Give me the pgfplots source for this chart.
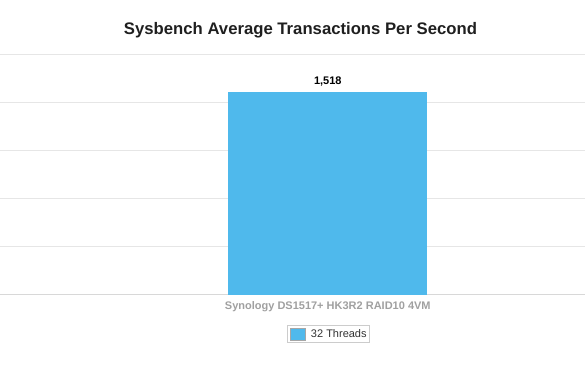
\documentclass[border=0pt]{standalone}
\usepackage{fontspec}
\setmainfont{Liberation Sans}
\usepackage{pgfplots}
\pgfplotsset{compat=1.18}
\definecolor{barblue}{RGB}{79,185,236}
\definecolor{gridgray}{RGB}{230,230,230}
\definecolor{axisgray}{RGB}{216,216,216}
\definecolor{labgray}{RGB}{160,160,160}
\definecolor{txt}{RGB}{51,51,51}
\begin{document}
\begin{tikzpicture}[x=1pt,y=1pt]
\path[use as bounding box] (0,0) rectangle (585,390);
\node[anchor=base, font=\bfseries\fontsize{16.7}{19}\selectfont, text=black!88] at (300.5,355) {Sysbench Average Transactions Per Second};
\begin{axis}[
  at={(0pt,95.3pt)}, anchor=south west,
  scale only axis, width=585pt, height=240.4pt,
  xmin=-327.8, xmax=257.2,
  ymin=0, ymax=1800,
  ytick={0,360,720,1080,1440,1800},
  yticklabels={},
  ymajorgrids, grid style={gridgray, line width=0.8pt},
  axis x line*=bottom, axis y line*=left,
  y axis line style={draw=none},
  x axis line style={axisgray, line width=0.8pt},
  ytick style={draw=none}, xtick style={draw=none},
  xtick={0}, xticklabels={Synology DS1517+ HK3R2 RAID10 4VM},
  xticklabel style={anchor=base, yshift=-15.3pt, text=labgray, font=\bfseries\fontsize{11}{13}\selectfont},
  legend style={at={(0.5612,-0.1635)}, anchor=center, draw=gray!40, line width=0.6pt, font=\fontsize{11}{13}\selectfont, text=txt, inner xsep=0.5pt, inner ysep=1.5pt},
  legend image code/.code={\path (0pt,0pt) (19pt,0pt); \draw[fill=barblue, draw=gray!70, line width=0.5pt] (2pt,-6pt) rectangle (17pt,6pt);},
]
\addplot[ybar, bar width=199, fill=barblue, draw=none,
  nodes near coords,
  nodes near coords style={/pgf/number format/assume math mode=true, /pgf/number format/1000 sep={,}, anchor=base, yshift=7.7pt, font=\bfseries\fontsize{11}{13}\selectfont, text=black}]
  coordinates {(0,1518)};
\addlegendentry{\hspace{2pt}32 Threads}
\end{axis}
\end{tikzpicture}
\end{document}
